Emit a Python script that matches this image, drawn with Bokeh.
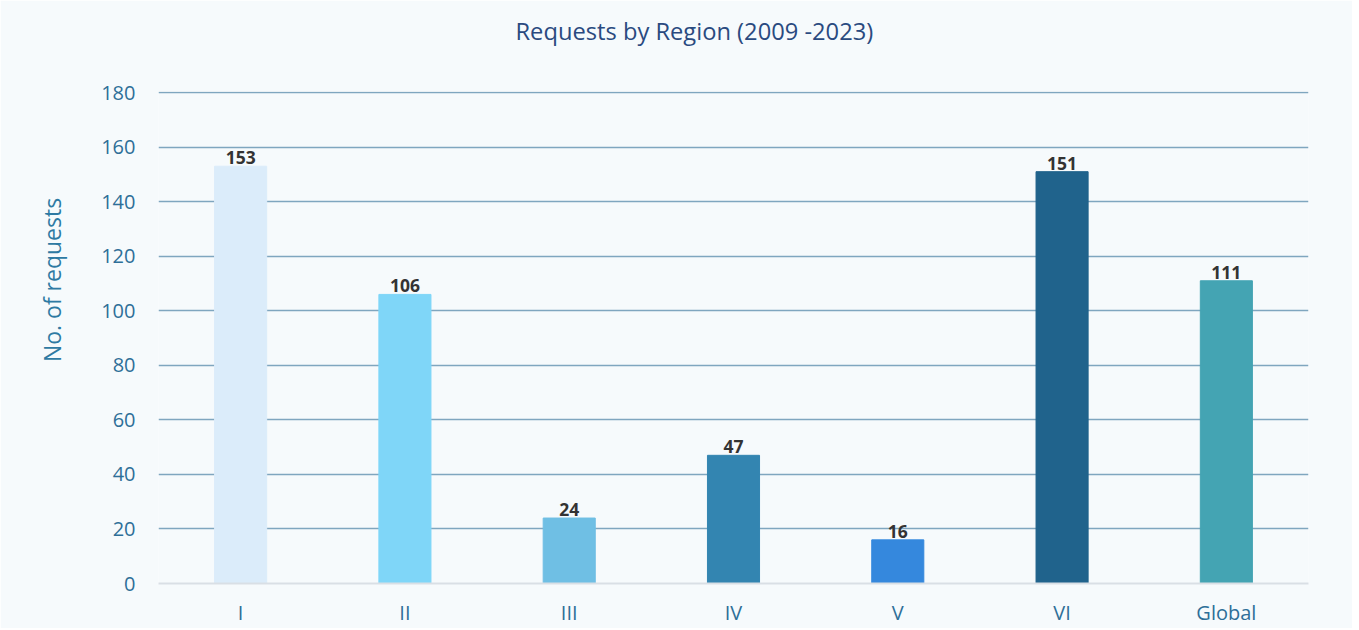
from bokeh.plotting import figure
from bokeh.models import ColumnDataSource, FactorRange, Range1d, LabelSet, FixedTicker
from bokeh.core.properties import value
from bokeh.embed import file_html
from bokeh.resources import INLINE

regions = ["I", "II", "III", "IV", "V", "VI", "Global"]
requests = [153, 106, 24, 47, 16, 151, 111]
bar_colors = ["#dbecfa", "#7fd6f8", "#6fbfe4", "#3385b1", "#3588dd", "#20638c", "#44a4b3"]
y_ticks = [0, 20, 40, 60, 80, 100, 120, 140, 160, 180]

src = ColumnDataSource(dict(region=regions, value=requests, color=bar_colors,
                            label=[str(v) for v in requests]))

BG = "#f6fafc"
p = figure(width=1352, height=630, x_range=FactorRange(*regions, range_padding=0),
           y_range=Range1d(0, 180.4), output_backend="svg", toolbar_location=None,
           title="Requests by Region (2009 -2023)\n",
           background_fill_color=BG, border_fill_color=BG, outline_line_color=None,
           frame_width=1150, frame_height=492,
           min_border_left=158, min_border_right=44, min_border_top=91, min_border_bottom=20)

p.vbar(x="region", top="value", width=0.317, color="color", source=src)

labels = LabelSet(x="region", y="value", text="label", source=src, text_align="center",
                  text_baseline="bottom", y_offset=2, text_font=value("Open Sans"),
                  text_font_style="bold", text_font_size="17.5px", text_color="#333333")
p.add_layout(labels)

p.title.align = "left"
p.title.offset = 357
p.title.text_font = "Open Sans"
p.title.text_font_style = "normal"
p.title.text_font_size = "23.7px"
p.title.text_color = "#2a4a80"
p.title.standoff = 25

p.yaxis.ticker = FixedTicker(ticks=y_ticks)
p.yaxis.axis_label = "\u2003\u2003\u2003\u2003\u2003No. of requests"
p.yaxis.axis_label_text_font = "Open Sans"
p.yaxis.axis_label_text_font_style = "normal"
p.yaxis.axis_label_text_font_size = "23px"
p.yaxis.axis_label_text_color = "#2e7aa3"
p.yaxis.axis_label_standoff = 30
p.yaxis.major_label_text_font = "Open Sans"
p.yaxis.major_label_text_font_size = "20px"
p.yaxis.major_label_text_color = "#2e6f98"
p.yaxis.major_tick_out = 0
p.yaxis.major_tick_in = 0
p.yaxis.major_label_standoff = 23
p.yaxis.axis_line_color = None
p.yaxis.major_tick_line_color = None
p.yaxis.minor_tick_line_color = None

p.xaxis.major_label_text_font = "Open Sans"
p.xaxis.major_label_text_font_size = "20px"
p.xaxis.major_label_text_color = "#2e6f98"
p.xaxis.major_tick_out = 0
p.xaxis.major_tick_in = 0
p.xaxis.major_label_standoff = 15
p.xaxis.axis_line_color = "#d9dfe5"
p.xaxis.axis_line_width = 2
p.xaxis.major_tick_line_color = None
p.xaxis.minor_tick_line_color = None

p.xgrid.grid_line_color = None
p.ygrid.grid_line_color = "#7fa6bf"
p.ygrid.grid_line_width = 1.5

open("out.html", "w").write(file_html(p, INLINE))
